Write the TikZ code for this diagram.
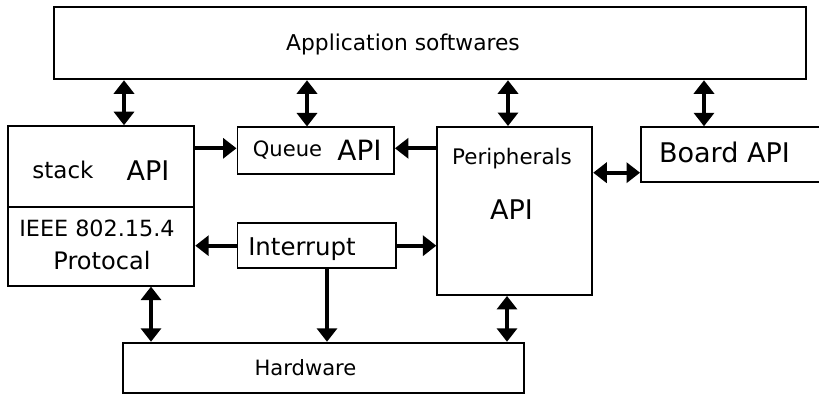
\documentclass[tikz,border=0pt]{standalone}
\usepackage{fontspec}
\setmainfont{DejaVu Sans}
\usetikzlibrary{arrows.meta, positioning, calc}

\begin{document}
\begin{tikzpicture}[
    x=0.02cm, y=-0.02cm,
    box/.style={rectangle, draw=black, line width=1.1pt, fill=white, inner sep=0pt},
    link/.style={line width=2.3pt, -{Triangle[length=0.27cm, width=0.4cm]}},
    both/.style={line width=2.3pt, {Triangle[length=0.27cm, width=0.4cm]}-{Triangle[length=0.27cm, width=0.4cm]}},
    txt/.style={font=\fontsize{#1}{#1}\selectfont, inner sep=0pt, anchor=base}
]
    \useasboundingbox (0,0) rectangle (819,394);

    % Layers
    \node[box, minimum width=15.05cm, minimum height=1.44cm] (app) at (429.8,43.3) {};
    \node[box, minimum width=3.72cm, minimum height=3.19cm] (stack) at (101.3,205.9) {};
    \node[box, minimum width=3.13cm, minimum height=0.93cm] (queue) at (315.7,150.7) {};
    \node[box, minimum width=3.10cm, minimum height=3.36cm] (periph) at (514.8,211) {};
    \node[box, minimum width=3.58cm, minimum height=1.09cm] (board) at (730.5,154.5) {};
    \node[box, minimum width=3.17cm, minimum height=0.90cm] (intr) at (316.7,245.2) {};
    \node[box, minimum width=8.02cm, minimum height=1.01cm] (hw) at (323.8,368) {};
    \draw[line width=1.1pt] (stack.west |- 0,207.3) -- (stack.east |- 0,207.3);

    % Labels
    \node[txt=12.4] (applbl) at (403,51) {Application softwares};
    \node[txt=13.1] (stacklbl) at (63,179) {stack};
    \node[txt=15.4] (stackapi) at (148,181) {API};
    \node[txt=12.7] (ieeelbl) at (97,237) {IEEE 802.15.4};
    \node[txt=13.7] (protolbl) at (102,270) {Protocal};
    \node[txt=12] (queuelbl) at (287.5,157) {Queue};
    \node[txt=15.9] (queueapi) at (359.5,161) {API};
    \node[txt=12.2] (periphlbl) at (512,165) {Peripherals};
    \node[txt=15.4] (periphapi) at (511.5,220) {API};
    \node[txt=15.4] (boardlbl) at (724.5,163) {Board API};
    \node[txt=13.9] (intrlbl) at (302,256) {Interrupt};
    \node[txt=12] (hwlbl) at (305.5,376) {Hardware};

    % Application <-> APIs
    \draw[both] (app.south -| 124,0) -- (stack.north -| 124,0);
    \draw[both] (app.south -| 307,0) -- (queue.north -| 307,0);
    \draw[both] (app.south -| 508,0) -- (periph.north -| 508,0);
    \draw[both] (app.south -| 704,0) -- (board.north -| 704,0);

    % Side links
    \draw[link] (stack.east |- 0,148.3) -- (queue.west |- 0,148.3);
    \draw[link] (periph.west |- 0,148.3) -- (queue.east |- 0,148.3);
    \draw[link] (intr.west |- 0,245.7) -- (stack.east |- 0,245.7);
    \draw[link] (intr.east |- 0,245.7) -- (periph.west |- 0,245.7);
    \draw[both] (periph.east |- 0,172.7) -- (board.west |- 0,172.7);

    % Down to hardware
    \draw[both] (stack.south -| 151,0) -- (hw.north -| 151,0);
    \draw[link] (intr.south -| 327,0) -- (hw.north -| 327,0);
    \draw[both] (periph.south -| 507,0) -- (hw.north -| 507,0);
\end{tikzpicture}
\end{document}
